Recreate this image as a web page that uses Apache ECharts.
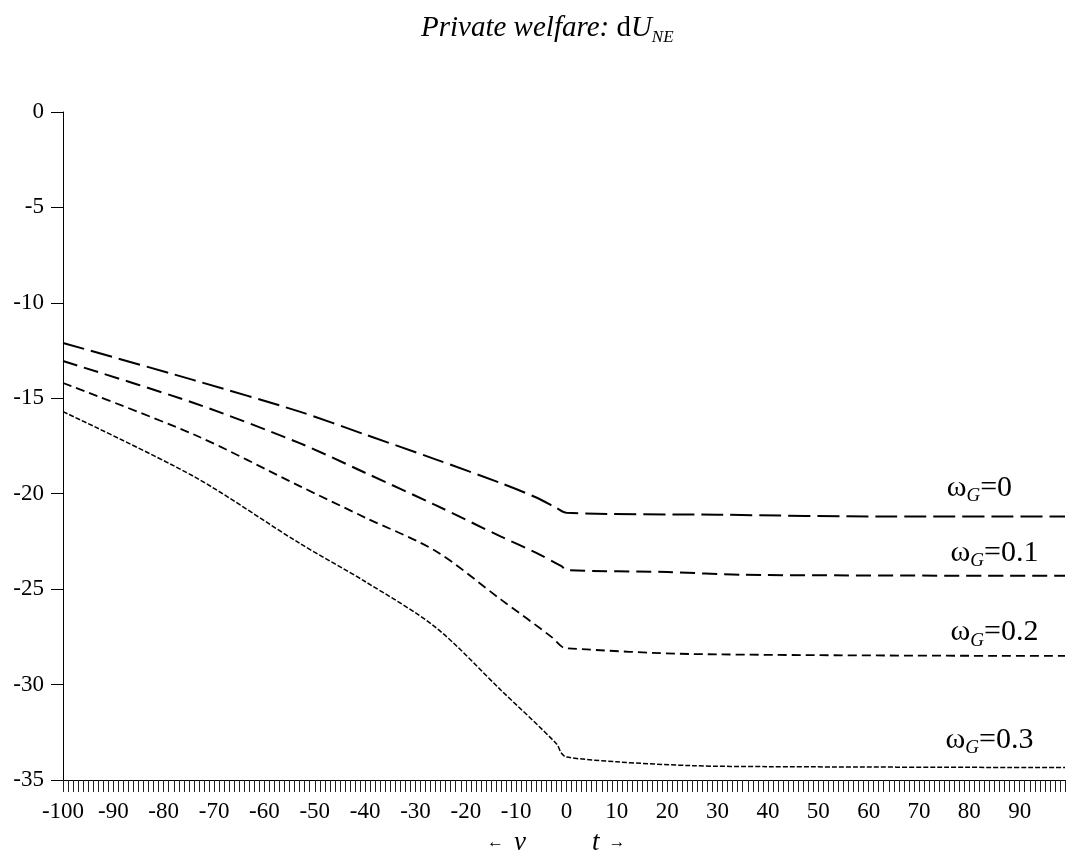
<!DOCTYPE html>
<html>
<head>
<meta charset="utf-8">
<title>Private welfare</title>
<script src="https://cdn.jsdelivr.net/npm/echarts@6/dist/echarts.min.js"></script>
<style>
  html, body { margin: 0; padding: 0; background: #fff; }
  #main { width: 1070px; height: 856px; }
</style>
</head>
<body>
<div id="main"></div>
<script>
// x categories: -100 .. 99 (v to the left of 0, t to the right)
var periods = [];
for (var p = -100; p <= 99; p++) periods.push(String(p));

// points, [period, dU_NE]
var wg0 = [[-100, -12.1], [-74, -14.05], [-53, -15.7], [-40, -16.9], [-26, -18.2], [-13, -19.45], [-6, -20.2], [-2, -20.75], [0, -21.0], [30, -21.1], [65, -21.2], [99, -21.2]];
var wg01 = [[-100, -13.05], [-74, -15.25], [-53, -17.35], [-40, -18.9], [-26, -20.6], [-13, -22.25], [-6, -23.1], [-1, -23.8], [0, -24.0], [20, -24.1], [35, -24.25], [99, -24.3]];
var wg02 = [[-100, -14.2], [-74, -16.9], [-53, -19.6], [-40, -21.25], [-26, -23.0], [-13, -25.55], [-3, -27.5], [-1, -28.0], [0, -28.1], [25, -28.4], [99, -28.5]];
var wg03 = [[-100, -15.7], [-74, -19.1], [-53, -22.6], [-40, -24.6], [-26, -27.0], [-13, -30.3], [-2, -33.1], [-1, -33.6], [0, -33.8], [10, -34.05], [25, -34.25], [40, -34.3], [99, -34.35]];

var yTicks = [0, -5, -10, -15, -20, -25, -30, -35];

var serif = 'Liberation Serif';

function toIdx(arr) {
  return arr.map(function (d) { return [d[0] + 100, d[1]]; });
}

// curve label, anchored on data coords
function curveLabel(name, t, v) {
  return {
    symbol: 'circle',
    symbolSize: 0,
    silent: true,
    data: [{
      coord: [t + 100, v],
      label: {
        show: true,
        position: 'inside',
        formatter: '{w|ω}{s|G}{w|=' + name + '}',
        rich: {
          w: { fontFamily: serif, fontSize: 30, color: '#000' },
          s: { fontFamily: serif, fontSize: 19, fontStyle: 'italic', color: '#000', padding: [17, 0, 0, 0] }
        }
      }
    }]
  };
}

function line(name, data, dash, width, lbl) {
  return {
    name: name,
    type: 'line',
    data: toIdx(data),
    showSymbol: false,
    symbol: 'none',
    smooth: 0.3,
    lineStyle: { color: '#000', width: width, type: dash },
    markPoint: lbl
  };
}

var myChart = echarts.init(document.getElementById('main'));
var option = {
  animation: false,
  backgroundColor: '#fff',
  title: {
    text: '{i|Private welfare: }{n|d}{i|U}{s|NE}',
    left: 416,
    top: 6,
    textStyle: {
      rich: {
        i: { fontFamily: serif, fontSize: 29, fontStyle: 'italic', fontWeight: 'normal', color: '#000' },
        n: { fontFamily: serif, fontSize: 29, fontWeight: 'normal', color: '#000' },
        s: { fontFamily: serif, fontSize: 17, fontStyle: 'italic', fontWeight: 'normal', color: '#000', padding: [18, 0, 0, 0] }
      }
    }
  },
  grid: { left: 63, right: 5, top: 112, bottom: 76, containLabel: false },
  xAxis: {
    type: 'category',
    data: periods,
    boundaryGap: false,
    axisLine: { onZero: false, lineStyle: { color: '#000', width: 1 } },
    axisTick: { interval: 0, length: 12, lineStyle: { color: '#222', width: 1 } },
    axisLabel: { interval: 9, margin: 20, fontFamily: serif, fontSize: 23, color: '#000' },
    splitLine: { show: false }
  },
  yAxis: {
    type: 'value',
    min: yTicks[yTicks.length - 1],
    max: yTicks[0],
    interval: 5,
    axisLine: { show: true, lineStyle: { color: '#000', width: 1 } },
    axisTick: { show: true, length: 12, lineStyle: { color: '#000' } },
    axisLabel: { margin: 19, fontFamily: serif, fontSize: 23, color: '#000' },
    splitLine: { show: false }
  },
  series: [
    line('0', wg0, [22, 7], 2, curveLabel('0', 82, -19.7)),
    line('0.1', wg01, [15, 7], 2, curveLabel('0.1', 85, -23.1)),
    line('0.2', wg02, [9, 5], 1.8, curveLabel('0.2', 85, -27.25)),
    line('0.3', wg03, [5, 2], 1.5, curveLabel('0.3', 84, -32.9))
  ],
  graphic: [
    {
      type: 'text', left: 487, top: 829,
      style: { text: '{a|←}{v|v}', rich: {
        a: { fontFamily: serif, fontSize: 17, fill: '#000' },
        v: { fontFamily: serif, fontSize: 27, fontStyle: 'italic', fill: '#000', padding: [0, 0, 0, 10] }
      } }
    },
    {
      type: 'text', left: 592, top: 829,
      style: { text: '{v|t}{a|→}', rich: {
        a: { fontFamily: serif, fontSize: 17, fill: '#000', padding: [0, 0, 0, 9] },
        v: { fontFamily: serif, fontSize: 27, fontStyle: 'italic', fill: '#000' }
      } }
    }
  ]
};
myChart.setOption(option);
</script>
</body>
</html>
